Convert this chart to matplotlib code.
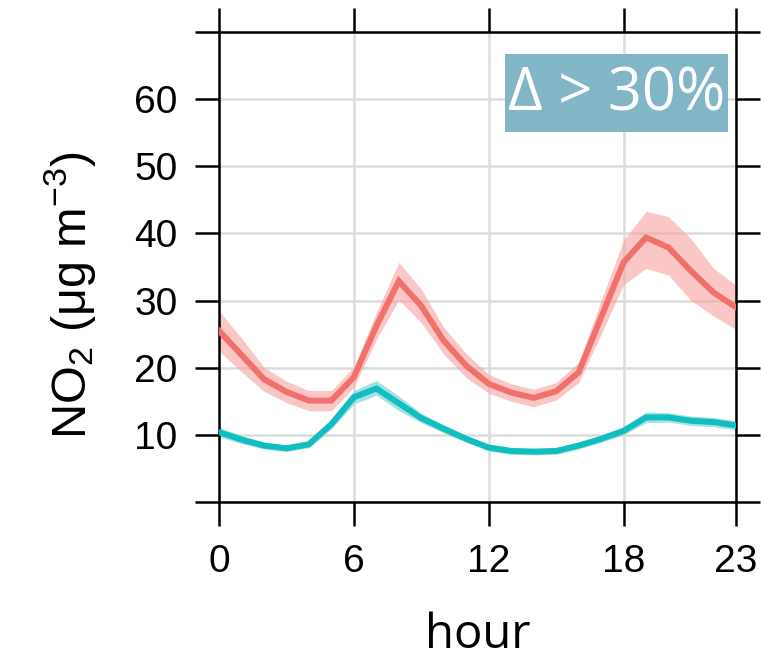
import matplotlib
matplotlib.use("Agg")
import matplotlib.pyplot as plt
from matplotlib.patches import Rectangle
import numpy as np

# Diurnal NO2 profiles
hours = np.arange(24)
red_mean = [25.5, 21.9, 18.3, 16.4, 15.1, 15.1, 18.6, 26.2, 32.9, 29.2, 24.0, 20.3,
            17.6, 16.3, 15.5, 16.5, 19.3, 27.5, 35.7, 39.4, 37.9, 34.4, 31.2, 29.0]
red_upper = [28.5, 24.4, 20.1, 18.0, 16.6, 16.6, 20.1, 28.2, 35.7, 31.7, 26.0, 22.1,
             19.0, 17.6, 16.8, 17.8, 20.8, 30.0, 39.0, 43.3, 42.5, 39.2, 34.8, 32.3]
red_lower = [22.5, 19.4, 16.5, 14.8, 13.6, 13.6, 17.1, 24.2, 30.1, 26.7, 22.0, 18.5,
             16.2, 15.0, 14.2, 15.2, 17.8, 25.0, 32.4, 34.8, 33.8, 30.0, 27.7, 25.7]

teal_mean = [10.4, 9.3, 8.4, 8.0, 8.6, 11.6, 15.6, 16.9, 14.7, 12.5, 10.9, 9.4,
             8.1, 7.6, 7.5, 7.6, 8.4, 9.4, 10.6, 12.6, 12.6, 12.1, 11.9, 11.4]
teal_upper = [11.1, 9.9, 8.9, 8.5, 9.1, 12.3, 16.6, 18.1, 15.8, 13.2, 11.5, 9.9,
              8.6, 8.1, 8.0, 8.1, 8.9, 9.9, 11.2, 13.4, 13.3, 12.8, 12.6, 12.1]
teal_lower = [9.7, 8.7, 7.9, 7.5, 8.1, 10.9, 14.6, 15.9, 13.6, 11.8, 10.3, 8.9,
              7.6, 7.1, 7.0, 7.1, 7.9, 8.9, 10.0, 11.8, 11.9, 11.4, 11.2, 10.7]

x_ticks = [0, 6, 12, 18, 23]
y_ticks = [0, 10, 20, 30, 40, 50, 60, 70]
y_ticklabels = ["", "10", "20", "30", "40", "50", "60", ""]
badge_text = "Δ > 30%"

red = "#F0716B"
teal = "#10BDBF"

plt.rcParams["font.family"] = ["Liberation Sans", "DejaVu Sans"]
plt.rcParams["mathtext.fontset"] = "custom"
plt.rcParams["mathtext.rm"] = "Liberation Sans"
plt.rcParams["mathtext.it"] = "Liberation Sans:italic"

fig = plt.figure(figsize=(7.61, 6.62), dpi=100)
ax = fig.add_axes([219 / 761, 160 / 662, 517 / 761, 470 / 662])

ax.fill_between(hours, red_lower, red_upper, color="#F8A0A0", alpha=0.6, lw=0, zorder=2)
ax.fill_between(hours, teal_lower, teal_upper, color="#7FD6D8", alpha=0.7, lw=0, zorder=2)
ax.plot(hours, red_mean, color=red, lw=4.3, zorder=3, solid_joinstyle="miter")
ax.plot(hours, teal_mean, color=teal, lw=4.3, zorder=3, solid_joinstyle="miter")

ax.set_xlim(0, 23)
ax.set_ylim(0, 70)
ax.set_xticks(x_ticks)
ax.set_yticks(y_ticks)
ax.set_yticklabels(y_ticklabels)
ax.grid(True, color="#DCDCDC", lw=1.8)
ax.set_axisbelow(True)

for s in ax.spines.values():
    s.set_linewidth(1.8)
ax.tick_params(axis="both", direction="out", length=17, width=1.8,
               labelsize=28, pad=13, top=True, right=True)

# badge in the upper right corner
ax.add_patch(Rectangle((0.553, 0.787), 0.4315, 0.166, transform=ax.transAxes,
                       facecolor="#82B5C5", edgecolor="none", zorder=5))
ax.text(0.769, 0.866, badge_text, transform=ax.transAxes, ha="center", va="center",
        color="white", fontsize=43, family=["Open Sans", "DejaVu Sans"], zorder=6)

fig.text(478 / 761, 14 / 662, "hour", ha="center", va="baseline",
         fontsize=34, family=["Open Sans", "DejaVu Sans"])
fig.text(70 / 761, 1 - 295 / 662, "NO$_2$ ($\\mathregular{\\mu}$g m$^{-3}$)",
         rotation=90, ha="center", va="center", fontsize=35)

fig.savefig("out.png", dpi=100)
